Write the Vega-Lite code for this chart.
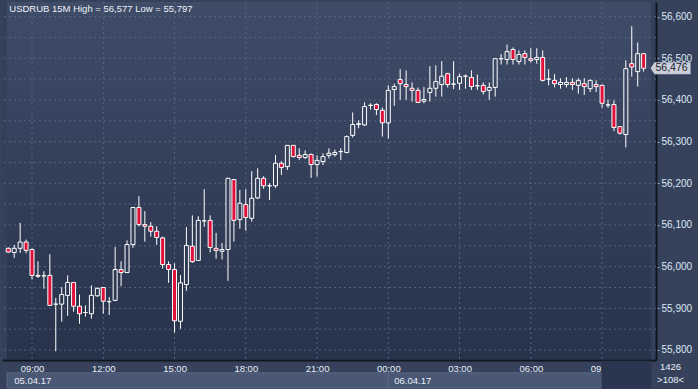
{
  "$schema": "https://vega.github.io/schema/vega-lite/v6.json",
  "width": 654,
  "height": 358,
  "autosize": {"type": "none"},
  "padding": {"left": 2, "top": 2, "right": 42, "bottom": 29},
  "background": "#36425c",
  "view": {"stroke": null, "fill": "#34405b"},
  "config": {"font": "Liberation Sans", "locale": {"number": {"decimal": ",", "thousands": ".", "grouping": [3], "currency": ["", ""]}}},
  "datasets": {
    "candles": [
      {"t":"2017-04-05T08:00","o":56.044,"h":56.046,"l":56.033,"c":56.035},
      {"t":"2017-04-05T08:15","o":56.034,"h":56.052,"l":56.021,"c":56.044},
      {"t":"2017-04-05T08:30","o":56.044,"h":56.105,"l":56.033,"c":56.059},
      {"t":"2017-04-05T08:45","o":56.059,"h":56.065,"l":56.032,"c":56.039},
      {"t":"2017-04-05T09:00","o":56.041,"h":56.044,"l":55.969,"c":55.979},
      {"t":"2017-04-05T09:15","o":55.979,"h":56.013,"l":55.973,"c":55.977},
      {"t":"2017-04-05T09:30","o":55.978,"h":55.989,"l":55.947,"c":55.978},
      {"t":"2017-04-05T09:45","o":55.979,"h":56.030,"l":55.907,"c":55.907},
      {"t":"2017-04-05T10:00","o":55.910,"h":55.925,"l":55.797,"c":55.910},
      {"t":"2017-04-05T10:15","o":55.910,"h":55.951,"l":55.868,"c":55.933},
      {"t":"2017-04-05T10:30","o":55.931,"h":55.979,"l":55.882,"c":55.962},
      {"t":"2017-04-05T10:45","o":55.962,"h":55.962,"l":55.892,"c":55.905},
      {"t":"2017-04-05T11:00","o":55.905,"h":55.933,"l":55.863,"c":55.887},
      {"t":"2017-04-05T11:15","o":55.890,"h":55.907,"l":55.880,"c":55.890},
      {"t":"2017-04-05T11:30","o":55.887,"h":55.955,"l":55.875,"c":55.931},
      {"t":"2017-04-05T11:45","o":55.930,"h":55.950,"l":55.928,"c":55.948},
      {"t":"2017-04-05T12:00","o":55.950,"h":55.951,"l":55.887,"c":55.917},
      {"t":"2017-04-05T12:15","o":55.916,"h":55.927,"l":55.884,"c":55.916},
      {"t":"2017-04-05T12:30","o":55.919,"h":56.047,"l":55.917,"c":55.993},
      {"t":"2017-04-05T12:45","o":55.993,"h":56.013,"l":55.953,"c":55.986},
      {"t":"2017-04-05T13:00","o":55.986,"h":56.063,"l":55.986,"c":56.053},
      {"t":"2017-04-05T13:15","o":56.053,"h":56.142,"l":56.045,"c":56.142},
      {"t":"2017-04-05T13:30","o":56.142,"h":56.169,"l":56.096,"c":56.101},
      {"t":"2017-04-05T13:45","o":56.101,"h":56.133,"l":56.060,"c":56.097},
      {"t":"2017-04-05T14:00","o":56.097,"h":56.107,"l":56.072,"c":56.085},
      {"t":"2017-04-05T14:15","o":56.085,"h":56.097,"l":56.052,"c":56.070},
      {"t":"2017-04-05T14:30","o":56.069,"h":56.072,"l":55.995,"c":56.005},
      {"t":"2017-04-05T14:45","o":56.005,"h":56.013,"l":55.961,"c":55.993},
      {"t":"2017-04-05T15:00","o":55.993,"h":56.008,"l":55.842,"c":55.870},
      {"t":"2017-04-05T15:15","o":55.869,"h":55.980,"l":55.851,"c":55.961},
      {"t":"2017-04-05T15:30","o":55.957,"h":56.095,"l":55.942,"c":56.051},
      {"t":"2017-04-05T15:45","o":56.049,"h":56.123,"l":56.009,"c":56.012},
      {"t":"2017-04-05T16:00","o":56.015,"h":56.121,"l":56.015,"c":56.111},
      {"t":"2017-04-05T16:15","o":56.110,"h":56.186,"l":56.096,"c":56.110},
      {"t":"2017-04-05T16:30","o":56.111,"h":56.123,"l":56.034,"c":56.046},
      {"t":"2017-04-05T16:45","o":56.044,"h":56.081,"l":56.019,"c":56.039},
      {"t":"2017-04-05T17:00","o":56.037,"h":56.057,"l":56.017,"c":56.041},
      {"t":"2017-04-05T17:15","o":56.041,"h":56.212,"l":55.966,"c":56.212},
      {"t":"2017-04-05T17:30","o":56.209,"h":56.209,"l":56.060,"c":56.111},
      {"t":"2017-04-05T17:45","o":56.113,"h":56.184,"l":56.091,"c":56.152},
      {"t":"2017-04-05T18:00","o":56.149,"h":56.186,"l":56.086,"c":56.118},
      {"t":"2017-04-05T18:15","o":56.116,"h":56.229,"l":56.108,"c":56.164},
      {"t":"2017-04-05T18:30","o":56.165,"h":56.236,"l":56.162,"c":56.212},
      {"t":"2017-04-05T18:45","o":56.212,"h":56.217,"l":56.187,"c":56.194},
      {"t":"2017-04-05T19:00","o":56.194,"h":56.200,"l":56.160,"c":56.194},
      {"t":"2017-04-05T19:15","o":56.194,"h":56.268,"l":56.189,"c":56.248},
      {"t":"2017-04-05T19:30","o":56.248,"h":56.253,"l":56.220,"c":56.238},
      {"t":"2017-04-05T19:45","o":56.240,"h":56.291,"l":56.232,"c":56.291},
      {"t":"2017-04-05T20:00","o":56.291,"h":56.291,"l":56.262,"c":56.264},
      {"t":"2017-04-05T20:15","o":56.267,"h":56.284,"l":56.256,"c":56.262},
      {"t":"2017-04-05T20:30","o":56.262,"h":56.279,"l":56.258,"c":56.269},
      {"t":"2017-04-05T20:45","o":56.269,"h":56.272,"l":56.213,"c":56.245},
      {"t":"2017-04-05T21:00","o":56.245,"h":56.267,"l":56.216,"c":56.255},
      {"t":"2017-04-05T21:15","o":56.252,"h":56.272,"l":56.244,"c":56.264},
      {"t":"2017-04-05T21:30","o":56.267,"h":56.284,"l":56.260,"c":56.272},
      {"t":"2017-04-05T21:45","o":56.269,"h":56.281,"l":56.264,"c":56.274},
      {"t":"2017-04-05T22:00","o":56.276,"h":56.284,"l":56.256,"c":56.276},
      {"t":"2017-04-05T22:15","o":56.274,"h":56.315,"l":56.272,"c":56.312},
      {"t":"2017-04-05T22:30","o":56.315,"h":56.370,"l":56.310,"c":56.341},
      {"t":"2017-04-05T22:45","o":56.341,"h":56.351,"l":56.332,"c":56.343},
      {"t":"2017-04-05T23:00","o":56.340,"h":56.394,"l":56.338,"c":56.384},
      {"t":"2017-04-05T23:15","o":56.387,"h":56.392,"l":56.377,"c":56.387},
      {"t":"2017-04-05T23:30","o":56.389,"h":56.392,"l":56.364,"c":56.377},
      {"t":"2017-04-05T23:45","o":56.375,"h":56.382,"l":56.312,"c":56.345},
      {"t":"2017-04-06T00:00","o":56.345,"h":56.435,"l":56.307,"c":56.423},
      {"t":"2017-04-06T00:15","o":56.425,"h":56.439,"l":56.386,"c":56.432},
      {"t":"2017-04-06T00:30","o":56.449,"h":56.474,"l":56.400,"c":56.439},
      {"t":"2017-04-06T00:45","o":56.437,"h":56.471,"l":56.400,"c":56.432},
      {"t":"2017-04-06T01:00","o":56.428,"h":56.442,"l":56.396,"c":56.423},
      {"t":"2017-04-06T01:15","o":56.423,"h":56.430,"l":56.393,"c":56.394},
      {"t":"2017-04-06T01:30","o":56.397,"h":56.431,"l":56.392,"c":56.401},
      {"t":"2017-04-06T01:45","o":56.418,"h":56.481,"l":56.396,"c":56.428},
      {"t":"2017-04-06T02:00","o":56.428,"h":56.483,"l":56.408,"c":56.444},
      {"t":"2017-04-06T02:15","o":56.437,"h":56.493,"l":56.408,"c":56.457},
      {"t":"2017-04-06T02:30","o":56.463,"h":56.465,"l":56.430,"c":56.437},
      {"t":"2017-04-06T02:45","o":56.438,"h":56.493,"l":56.426,"c":56.438},
      {"t":"2017-04-06T03:00","o":56.440,"h":56.463,"l":56.424,"c":56.456},
      {"t":"2017-04-06T03:15","o":56.457,"h":56.461,"l":56.427,"c":56.457},
      {"t":"2017-04-06T03:30","o":56.454,"h":56.471,"l":56.424,"c":56.432},
      {"t":"2017-04-06T03:45","o":56.434,"h":56.461,"l":56.424,"c":56.434},
      {"t":"2017-04-06T04:00","o":56.435,"h":56.442,"l":56.413,"c":56.420},
      {"t":"2017-04-06T04:15","o":56.423,"h":56.442,"l":56.400,"c":56.430},
      {"t":"2017-04-06T04:30","o":56.430,"h":56.499,"l":56.408,"c":56.499},
      {"t":"2017-04-06T04:45","o":56.499,"h":56.510,"l":56.485,"c":56.499},
      {"t":"2017-04-06T05:00","o":56.497,"h":56.533,"l":56.485,"c":56.516},
      {"t":"2017-04-06T05:15","o":56.521,"h":56.526,"l":56.485,"c":56.497},
      {"t":"2017-04-06T05:30","o":56.492,"h":56.519,"l":56.485,"c":56.509},
      {"t":"2017-04-06T05:45","o":56.511,"h":56.519,"l":56.485,"c":56.502},
      {"t":"2017-04-06T06:00","o":56.499,"h":56.524,"l":56.490,"c":56.495},
      {"t":"2017-04-06T06:15","o":56.497,"h":56.524,"l":56.487,"c":56.502},
      {"t":"2017-04-06T06:30","o":56.502,"h":56.519,"l":56.444,"c":56.447},
      {"t":"2017-04-06T06:45","o":56.450,"h":56.474,"l":56.435,"c":56.450},
      {"t":"2017-04-06T07:00","o":56.447,"h":56.462,"l":56.430,"c":56.439},
      {"t":"2017-04-06T07:15","o":56.437,"h":56.452,"l":56.427,"c":56.442},
      {"t":"2017-04-06T07:30","o":56.437,"h":56.455,"l":56.430,"c":56.442},
      {"t":"2017-04-06T07:45","o":56.442,"h":56.452,"l":56.424,"c":56.437},
      {"t":"2017-04-06T08:00","o":56.435,"h":56.452,"l":56.415,"c":56.447},
      {"t":"2017-04-06T08:15","o":56.439,"h":56.452,"l":56.412,"c":56.432},
      {"t":"2017-04-06T08:30","o":56.427,"h":56.449,"l":56.419,"c":56.447},
      {"t":"2017-04-06T08:45","o":56.437,"h":56.447,"l":56.419,"c":56.432},
      {"t":"2017-04-06T09:00","o":56.435,"h":56.437,"l":56.381,"c":56.392},
      {"t":"2017-04-06T09:15","o":56.388,"h":56.401,"l":56.381,"c":56.388},
      {"t":"2017-04-06T09:30","o":56.389,"h":56.399,"l":56.325,"c":56.334},
      {"t":"2017-04-06T09:45","o":56.336,"h":56.336,"l":56.317,"c":56.320},
      {"t":"2017-04-06T10:00","o":56.317,"h":56.495,"l":56.286,"c":56.475},
      {"t":"2017-04-06T10:15","o":56.487,"h":56.577,"l":56.456,"c":56.479},
      {"t":"2017-04-06T10:30","o":56.468,"h":56.538,"l":56.432,"c":56.511},
      {"t":"2017-04-06T10:45","o":56.511,"h":56.511,"l":56.468,"c":56.476}
    ],
    "panel": [
      {"a":"2017-04-05T07:56:48","b":"2017-04-06T11:03:00","lo":55.7775,"hi":56.635}
    ],
    "hgrid": [
      {"v":55.8},{"v":55.85},{"v":55.9},{"v":55.95},{"v":56.0},{"v":56.05},{"v":56.1},{"v":56.15},{"v":56.2},
      {"v":56.25},{"v":56.3},{"v":56.35},{"v":56.4},{"v":56.45},{"v":56.5},{"v":56.55},{"v":56.6}
    ],
    "vgrid": [
      {"t":"2017-04-05T09:00"},{"t":"2017-04-05T12:00"},{"t":"2017-04-05T15:00"},{"t":"2017-04-05T18:00"},{"t":"2017-04-05T21:00"},
      {"t":"2017-04-06T00:00"},{"t":"2017-04-06T03:00"},{"t":"2017-04-06T06:00"},{"t":"2017-04-06T09:00"}
    ],
    "boxes": [
      {"a":"2017-04-05T07:57","b":"2017-04-06T00:00","lo":55.709,"hi":55.745,"k":"day"},
      {"a":"2017-04-06T00:00","b":"2017-04-06T09:00","lo":55.709,"hi":55.745,"k":"day"},
      {"a":"2017-04-06T09:00","b":"2017-04-06T11:03","lo":55.709,"hi":55.773,"k":"win"}
    ],
    "dates": [
      {"t":"2017-04-05T08:00","v":55.7265,"s":"05.04.17"},
      {"t":"2017-04-06T00:00","v":55.7265,"s":"06.04.17"}
    ],
    "notes": [
      {"t":"2017-04-06T11:53","v":55.759,"s":"1426"},
      {"t":"2017-04-06T11:53","v":55.728,"s":">108<"}
    ],
    "heading": [
      {"t":"2017-04-05T08:00","v":56.618,"s":"USDRUB 15M High = 56,577 Low = 55,797"}
    ],
    "tag": [
      {"t":"2017-04-06T11:53","v":56.476,"s":"56,476"}
    ]
  },
  "layer": [
    {
      "data": {"name": "panel"},
      "mark": {"type": "rect", "color": {"gradient": "linear", "x1": 0, "y1": 0, "x2": 0, "y2": 1, "stops": [{"offset": 0, "color": "#3f4c68"}, {"offset": 1, "color": "#27324b"}]}},
      "encoding": {
        "x": {"field": "a", "type": "temporal"},
        "x2": {"field": "b"},
        "y": {"field": "lo", "type": "quantitative"},
        "y2": {"field": "hi"}
      }
    },
    {
      "data": {"name": "hgrid"},
      "mark": {"type": "rule", "color": "#56647f", "strokeDash": [2, 3], "strokeWidth": 1},
      "encoding": {"y": {"field": "v", "type": "quantitative"}}
    },
    {
      "data": {"name": "vgrid"},
      "mark": {"type": "rule", "color": "#56647f", "strokeDash": [2, 3], "strokeWidth": 1},
      "encoding": {"x": {"field": "t", "type": "temporal"}}
    },
    {
      "data": {"name": "candles"},
      "mark": {"type": "rule", "color": "#ffffff", "strokeWidth": 1},
      "encoding": {
        "x": {
          "field": "t", "type": "temporal",
          "scale": {"nice": false, "domain": [{"year": 2017, "month": 4, "date": 5, "hours": 7, "minutes": 56, "seconds": 48}, {"year": 2017, "month": 4, "date": 6, "hours": 11, "minutes": 3, "seconds": 36}]},
          "axis": {"format": "%H:%M", "values": [{"year": 2017, "month": 4, "date": 5, "hours": 9}, {"year": 2017, "month": 4, "date": 5, "hours": 12}, {"year": 2017, "month": 4, "date": 5, "hours": 15}, {"year": 2017, "month": 4, "date": 5, "hours": 18}, {"year": 2017, "month": 4, "date": 5, "hours": 21}, {"year": 2017, "month": 4, "date": 6, "hours": 0}, {"year": 2017, "month": 4, "date": 6, "hours": 3}, {"year": 2017, "month": 4, "date": 6, "hours": 6}, {"year": 2017, "month": 4, "date": 6, "hours": 9}], "grid": false, "labelColor": "#e8eef8", "labelFontSize": 9.5, "labelPadding": 3, "tickSize": 0, "domainColor": "#10161f", "domainWidth": 2, "title": null}
        },
        "y": {
          "field": "l", "type": "quantitative",
          "scale": {"domain": [55.776, 56.635], "zero": false, "nice": false},
          "axis": {"orient": "right", "values": [55.8, 55.85, 55.9, 55.95, 56.0, 56.05, 56.1, 56.15, 56.2, 56.25, 56.3, 56.35, 56.4, 56.45, 56.5, 56.55, 56.6], "format": ".3f", "grid": false, "labelColor": "#dfe7f4", "labelFontSize": 10, "labelPadding": 2, "tickSize": 3, "tickColor": "#9aa6bc", "domainColor": "#10161f", "domainWidth": 2, "title": null}
        },
        "y2": {"field": "h"}
      }
    },
    {
      "data": {"name": "candles"},
      "mark": {"type": "bar", "width": 4, "stroke": "#ffffff", "strokeWidth": 1},
      "encoding": {
        "x": {"field": "t", "type": "temporal"},
        "y": {"field": "o", "type": "quantitative"},
        "y2": {"field": "c"},
        "fill": {
          "condition": {"test": "datum.c < datum.o", "value": "#e0103a"},
          "field": "c", "type": "quantitative",
          "scale": {"domain": [55.776, 56.635], "range": ["#27324b", "#3f4c68"], "interpolate": "rgb"},
          "legend": null
        }
      }
    },
    {
      "data": {"name": "boxes"},
      "mark": {"type": "rect", "strokeWidth": 1},
      "encoding": {
        "x": {"field": "a", "type": "temporal"},
        "x2": {"field": "b"},
        "y": {"field": "lo", "type": "quantitative"},
        "y2": {"field": "hi"},
        "fill": {"condition": {"test": "datum.k == 'win'", "value": "#2a3550"}, "value": "#4a5775"},
        "stroke": {"condition": {"test": "datum.k == 'win'", "value": "#2a3550"}, "value": "#5d6a86"}
      }
    },
    {
      "data": {"name": "dates"},
      "mark": {"type": "text", "align": "left", "baseline": "middle", "fontSize": 9.5, "color": "#e8eef8", "dx": 6},
      "encoding": {
        "x": {"field": "t", "type": "temporal"},
        "y": {"field": "v", "type": "quantitative"},
        "text": {"field": "s"}
      }
    },
    {
      "data": {"name": "heading"},
      "mark": {"type": "text", "align": "left", "baseline": "middle", "fontSize": 9.5, "color": "#eef2f8", "dx": 1},
      "encoding": {
        "x": {"field": "t", "type": "temporal"},
        "y": {"field": "v", "type": "quantitative"},
        "text": {"field": "s"}
      }
    },
    {
      "data": {"name": "notes"},
      "mark": {"type": "text", "align": "center", "baseline": "middle", "fontSize": 9.5, "color": "#e8eef8"},
      "encoding": {
        "x": {"field": "t", "type": "temporal"},
        "y": {"field": "v", "type": "quantitative"},
        "text": {"field": "s"}
      }
    },
    {
      "data": {"name": "tag"},
      "mark": {"type": "point", "filled": true, "opacity": 1, "color": "#c9ced8", "size": 1600, "shape": "M-1,0L-0.8,-0.3L1,-0.3L1,0.3L-0.8,0.3Z"},
      "encoding": {
        "x": {"field": "t", "type": "temporal"},
        "y": {"field": "v", "type": "quantitative"}
      }
    },
    {
      "data": {"name": "tag"},
      "mark": {"type": "text", "align": "center", "baseline": "middle", "fontSize": 10.5, "color": "#1c2230", "dx": 1},
      "encoding": {
        "x": {"field": "t", "type": "temporal"},
        "y": {"field": "v", "type": "quantitative"},
        "text": {"field": "s"}
      }
    }
  ]
}
